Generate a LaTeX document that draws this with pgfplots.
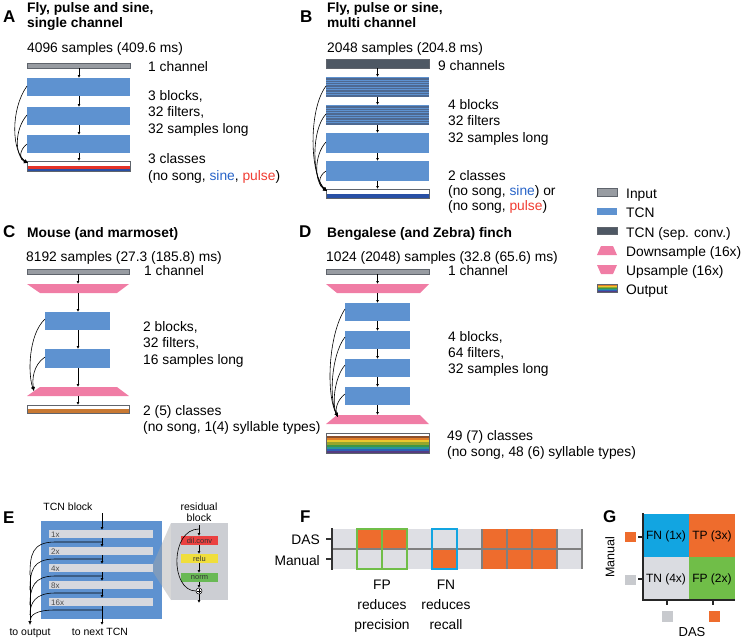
\documentclass[border=0pt]{standalone}
\usepackage{pgfplots}
\pgfplotsset{compat=1.18}
\usepackage{fontspec}
\setmainfont{Liberation Sans}
\usetikzlibrary{arrows.meta}
\definecolor{tcn}{RGB}{94,146,208}
\definecolor{inp}{RGB}{152,156,162}
\definecolor{inpd}{RGB}{95,100,108}
\definecolor{sep}{RGB}{78,88,100}
\definecolor{stripe}{RGB}{78,105,145}
\definecolor{pinkc}{RGB}{240,125,165}
\definecolor{redc}{RGB}{228,50,40}
\definecolor{bluec}{RGB}{40,80,165}
\definecolor{sinec}{RGB}{40,100,200}
\definecolor{pulsec}{RGB}{240,60,50}
\definecolor{orc}{RGB}{238,108,45}
\definecolor{lg}{RGB}{222,223,228}
\definecolor{grc}{RGB}{112,190,72}
\definecolor{cyc}{RGB}{18,165,225}
\definecolor{brc}{RGB}{200,120,50}
\definecolor{barg}{RGB}{214,216,222}
\definecolor{resg}{RGB}{204,206,211}
\definecolor{sA}{RGB}{140,80,45}
\definecolor{sB}{RGB}{225,125,40}
\definecolor{sC}{RGB}{235,200,45}
\definecolor{sD}{RGB}{150,165,45}
\definecolor{sE}{RGB}{60,150,70}
\definecolor{sF}{RGB}{40,150,150}
\definecolor{sG}{RGB}{45,95,180}
\definecolor{sH}{RGB}{85,60,130}
\tikzset{
 t/.style={anchor=base west, inner sep=0pt, font=\fontsize{13.8}{16}\selectfont},
 tb/.style={anchor=base west, inner sep=0pt, font=\fontsize{13.8}{16}\selectfont\bfseries},
 L/.style={anchor=base west, inner sep=0pt, font=\fontsize{17}{20}\selectfont\bfseries},
 te/.style={anchor=base, inner sep=0pt, font=\fontsize{10.5}{12}\selectfont},
 ts/.style={anchor=base west, inner sep=0pt, font=\fontsize{8}{9}\selectfont, text=black!70},
 tc/.style={anchor=center, inner sep=0pt, font=\fontsize{7.5}{8}\selectfont, text=black!80},
 ar/.style={-{Latex[length=3pt,width=3pt]}, line width=0.6pt},
 sk/.style={-{Latex[length=4pt,width=3.5pt]}, line width=0.6pt},
}
\newcommand\R[5]{\addplot[#1] coordinates {(#2,#3) (#4,#3) (#4,#5) (#2,#5)} --cycle;}
\newcommand\Ar[3]{\draw[ar] (axis cs:#1,#2) -- (axis cs:#1,#3);}
\begin{document}
\begin{tikzpicture}
\begin{axis}[scale only axis, width=742pt, height=638pt, xmin=0, xmax=742, ymin=0, ymax=638,
  y dir=reverse, hide axis, clip=false]
\addplot[draw=none] coordinates {(0,0) (742,638)};
% ===== Panel A =====
\node[L] at (axis cs:3,22) {A};
\node[tb] at (axis cs:27,12.5) {Fly, pulse and sine,};
\node[tb] at (axis cs:27,27.5) {single channel};
\node[t] at (axis cs:27,52) {4096 samples (409.6 ms)};
\R{fill=inp,draw=inpd,line width=0.8pt}{27}{63}{130}{68}
\node[t] at (axis cs:148,71) {1 channel};
\R{fill=tcn,draw=none}{27}{78}{130}{96}
\R{fill=tcn,draw=none}{27}{107}{130}{125}
\R{fill=tcn,draw=none}{27}{135}{130}{153}
\Ar{79}{68}{78}\Ar{79}{96}{107}\Ar{79}{125}{135}\Ar{79}{153}{161}
\R{fill=white,draw=none}{27}{161}{130}{166}
\R{fill=redc,draw=none}{27}{166}{130}{168.5}
\R{fill=bluec,draw=none}{27}{168.5}{130}{171}
\R{draw=inpd,line width=0.6pt}{27}{161}{130}{171}
\draw[sk] (axis cs:27,86) .. controls (axis cs:10,110) and (axis cs:12,152) .. (axis cs:28,163);
\draw[sk] (axis cs:27,115) .. controls (axis cs:14,130) and (axis cs:15,156) .. (axis cs:28,163);
\draw[sk] (axis cs:27,144) .. controls (axis cs:19,150) and (axis cs:19,160) .. (axis cs:28,163);
\node[t] at (axis cs:148,100) {3 blocks,};
\node[t] at (axis cs:148,116.5) {32 filters,};
\node[t] at (axis cs:148,133) {32 samples long};
\node[t] at (axis cs:148,163) {3 classes};
\node[t] at (axis cs:148,180) {(no song, \textcolor{sinec}{sine}, \textcolor{pulsec}{pulse})};
% ===== Panel B =====
\node[L] at (axis cs:300,22) {B};
\node[tb] at (axis cs:327,12.5) {Fly, pulse or sine,};
\node[tb] at (axis cs:327,27.5) {multi channel};
\node[t] at (axis cs:327,52) {2048 samples (204.8 ms)};
\R{fill=sep,draw=inpd,line width=0.6pt}{326}{59}{429}{68}
\node[t] at (axis cs:438,70) {9 channels};
\R{fill=tcn,draw=none}{326}{77}{429}{97}
\R{fill=tcn,draw=none}{326}{105}{429}{125}
\pgfplotsinvokeforeach{78,79.7,81.4,83.1,84.8,86.5,88.2,89.9,91.6,93.3,95,96.5,106,107.7,109.4,111.1,112.8,114.5,116.2,117.9,119.6,121.3,123,124.5}{
  \draw[stripe, line width=0.45pt] (axis cs:326,#1) -- (axis cs:429,#1);}
\R{fill=tcn,draw=none}{326}{133}{429}{153}
\R{fill=tcn,draw=none}{326}{161}{429}{181}
\Ar{377.5}{68}{77}\Ar{377.5}{97}{105}\Ar{377.5}{125}{133}\Ar{377.5}{153}{161}\Ar{377.5}{181}{189}
\R{fill=white,draw=none}{326}{189}{429}{193.5}
\R{fill=bluec,draw=none}{326}{193.5}{429}{198}
\R{draw=inpd,line width=0.6pt}{326}{189}{429}{198}
\draw[sk] (axis cs:326,86) .. controls (axis cs:308,110) and (axis cs:310,175) .. (axis cs:327,191);
\draw[sk] (axis cs:326,114) .. controls (axis cs:311,130) and (axis cs:312,178) .. (axis cs:327,191);
\draw[sk] (axis cs:326,142) .. controls (axis cs:314,155) and (axis cs:314,182) .. (axis cs:327,191);
\draw[sk] (axis cs:326,171) .. controls (axis cs:318,176) and (axis cs:318,186) .. (axis cs:327,191);
\node[t] at (axis cs:448,109) {4 blocks};
\node[t] at (axis cs:448,125.5) {32 filters};
\node[t] at (axis cs:448,142) {32 samples long};
\node[t] at (axis cs:448,180) {2 classes};
\node[t] at (axis cs:448,195) {(no song, \textcolor{sinec}{sine}) or};
\node[t] at (axis cs:448,210) {(no song, \textcolor{pulsec}{pulse})};
% ===== Panel C =====
\node[L] at (axis cs:3,237) {C};
\node[tb] at (axis cs:27,237) {Mouse (and marmoset)};
\node[t] at (axis cs:26,261) {8192 samples (27.3 (185.8) ms)};
\R{fill=inp,draw=inpd,line width=0.8pt}{27}{269}{129}{274}
\node[t] at (axis cs:144,275) {1 channel};
\Ar{78}{274}{284}
\addplot[fill=pinkc,draw=none] coordinates {(27,284) (129,284) (117,293) (40,293)} --cycle;
\Ar{78}{293}{312}
\R{fill=tcn,draw=none}{45}{312}{110}{330}
\R{fill=tcn,draw=none}{45}{349}{110}{368}
\Ar{78}{330}{349}\Ar{78}{368}{387}
\addplot[fill=pinkc,draw=none] coordinates {(40,387) (117,387) (129,396) (27,396)} --cycle;
\Ar{78}{396}{405}
\R{fill=white,draw=none}{27}{405}{129}{409}
\R{fill=brc,draw=none}{27}{409}{129}{413.5}
\R{draw=inpd,line width=0.6pt}{27}{405}{129}{413.5}
\draw[sk] (axis cs:45,319) .. controls (axis cs:28,335) and (axis cs:28,375) .. (axis cs:34,391);
\draw[sk] (axis cs:45,357) .. controls (axis cs:33,365) and (axis cs:32,380) .. (axis cs:34,391);
\node[t] at (axis cs:143,331) {2 blocks,};
\node[t] at (axis cs:143,347.5) {32 filters,};
\node[t] at (axis cs:143,364) {16 samples long};
\node[t] at (axis cs:143,415) {2 (5) classes};
\node[t] at (axis cs:143,431) {(no song, 1(4) syllable types)};
% ===== Panel D =====
\node[L] at (axis cs:299,237) {D};
\node[tb] at (axis cs:327,237) {Bengalese (and Zebra) finch};
\node[t] at (axis cs:326,261) {1024 (2048) samples (32.8 (65.6) ms)};
\R{fill=inp,draw=inpd,line width=0.8pt}{326}{269}{429}{274}
\node[t] at (axis cs:448,275) {1 channel};
\Ar{377.5}{274}{284}
\addplot[fill=pinkc,draw=none] coordinates {(326,284) (429,284) (420,293) (337,293)} --cycle;
\Ar{377.5}{293}{303}
\R{fill=tcn,draw=none}{345}{303}{410}{321}
\R{fill=tcn,draw=none}{345}{331}{410}{349}
\R{fill=tcn,draw=none}{345}{359}{410}{377}
\R{fill=tcn,draw=none}{345}{387}{410}{405}
\Ar{377.5}{321}{331}\Ar{377.5}{349}{359}\Ar{377.5}{377}{387}\Ar{377.5}{405}{415}
\addplot[fill=pinkc,draw=none] coordinates {(337,415) (420,415) (429,424) (326,424)} --cycle;
\R{fill=white,draw=none}{326}{433}{429}{436}
\R{fill=sA,draw=none}{326}{436}{429}{438.2}
\R{fill=sB,draw=none}{326}{438.2}{429}{440.3}
\R{fill=sC,draw=none}{326}{440.3}{429}{442.4}
\R{fill=sD,draw=none}{326}{442.4}{429}{444.5}
\R{fill=sE,draw=none}{326}{444.5}{429}{446.6}
\R{fill=sF,draw=none}{326}{446.6}{429}{448.8}
\R{fill=sG,draw=none}{326}{448.8}{429}{450.9}
\R{fill=sH,draw=none}{326}{450.9}{429}{453}
\R{draw=inpd,line width=0.6pt}{326}{433}{429}{453}
\draw[sk] (axis cs:345,309) .. controls (axis cs:328,335) and (axis cs:326,395) .. (axis cs:338,417);
\draw[sk] (axis cs:345,337) .. controls (axis cs:331,355) and (axis cs:329,400) .. (axis cs:338,417);
\draw[sk] (axis cs:345,365) .. controls (axis cs:334,378) and (axis cs:332,405) .. (axis cs:338,417);
\draw[sk] (axis cs:345,394) .. controls (axis cs:337,400) and (axis cs:335,410) .. (axis cs:338,417);
\node[t] at (axis cs:448,341) {4 blocks,};
\node[t] at (axis cs:448,357) {64 filters,};
\node[t] at (axis cs:448,373) {32 samples long};
\node[t] at (axis cs:447,440) {49 (7) classes};
\node[t] at (axis cs:447,456) {(no song, 48 (6) syllable types)};
% ===== Legend =====
\R{fill=inp,draw=inpd,line width=0.8pt}{597}{188}{617}{196}
\node[t] at (axis cs:626,198) {Input};
\R{fill=tcn,draw=none}{597}{208}{617}{215}
\node[t] at (axis cs:626,217.5) {TCN};
\R{fill=sep,draw=inpd,line width=0.6pt}{597}{227}{617}{234}
\node[t] at (axis cs:626,237) {TCN (sep. conv.)};
\addplot[fill=pinkc,draw=none] coordinates {(601,246) (613,246) (617,255) (597,255)} --cycle;
\node[t] at (axis cs:626,256.5) {Downsample (16x)};
\addplot[fill=pinkc,draw=none] coordinates {(597,265) (617,265) (613,274) (601,274)} --cycle;
\node[t] at (axis cs:626,275) {Upsample (16x)};
\R{fill=sA,draw=none}{597}{284}{617}{285}
\R{fill=sB,draw=none}{597}{285}{617}{286}
\R{fill=sC,draw=none}{597}{286}{617}{287}
\R{fill=sD,draw=none}{597}{287}{617}{288}
\R{fill=sE,draw=none}{597}{288}{617}{289}
\R{fill=sF,draw=none}{597}{289}{617}{290}
\R{fill=sG,draw=none}{597}{290}{617}{291}
\R{fill=sH,draw=none}{597}{291}{617}{292}
\R{draw=inpd,line width=0.5pt}{597}{284}{617}{292}
\node[t] at (axis cs:626,294) {Output};
% ===== Panel E =====
\node[L] at (axis cs:3,523) {E};
\node[te] at (axis cs:68,510) {TCN block};
\R{fill=tcn,draw=none}{41}{521}{162}{619}
\R{fill=barg,draw=none}{49}{530}{153}{538}
\R{fill=barg,draw=none}{49}{547}{153}{555}
\R{fill=barg,draw=none}{49}{564}{153}{572}
\R{fill=barg,draw=none}{49}{581}{153}{589}
\R{fill=barg,draw=none}{49}{598}{153}{606}
\node[ts] at (axis cs:51,537) {1x};
\node[ts] at (axis cs:51,554) {2x};
\node[ts] at (axis cs:51,571) {4x};
\node[ts] at (axis cs:51,588) {8x};
\node[ts] at (axis cs:51,605) {16x};
\Ar{102}{513}{530}\Ar{102}{538}{547}\Ar{102}{555}{564}\Ar{102}{572}{581}\Ar{102}{589}{598}\Ar{102}{606}{625}
\draw[line width=0.6pt] (axis cs:102,542) -- (axis cs:55,542) .. controls (axis cs:32,542) and (axis cs:30,555) .. (axis cs:30,575);
\draw[line width=0.6pt] (axis cs:102,559) -- (axis cs:55,559) .. controls (axis cs:33,559) and (axis cs:30,570) .. (axis cs:30,590);
\draw[line width=0.6pt] (axis cs:102,576) -- (axis cs:55,576) .. controls (axis cs:34,576) and (axis cs:30,587) .. (axis cs:30,605);
\draw[line width=0.6pt] (axis cs:102,593) -- (axis cs:55,593) .. controls (axis cs:35,593) and (axis cs:30,603) .. (axis cs:30,615);
\draw[sk] (axis cs:102,610) -- (axis cs:55,610) .. controls (axis cs:36,610) and (axis cs:30,615) .. (axis cs:30,625);
\draw[line width=0.6pt] (axis cs:30,575) -- (axis cs:30,620);
\node[te] at (axis cs:30,635) {to output};
\node[te] at (axis cs:100,635) {to next TCN};
\addplot[fill=black!35,draw=none,opacity=0.45] coordinates {(153,564) (171,523) (171,600) (153,572)} --cycle;
\R{fill=resg,draw=none}{171}{523}{228}{600}
\node[te] at (axis cs:199,510) {residual};
\node[te] at (axis cs:199,521.5) {block};
\R{fill={rgb,255:red,235;green,65;blue,65},draw=none}{181}{536}{218}{545}
\R{fill={rgb,255:red,240;green,222;blue,60},draw=none}{181}{554}{218}{563}
\R{fill={rgb,255:red,105;green,185;blue,85},draw=none}{181}{573}{218}{582}
\node[tc] at (axis cs:199.5,540.5) {dil.conv};
\node[tc] at (axis cs:199.5,558.5) {relu};
\node[tc] at (axis cs:199.5,577.5) {norm};
\Ar{199}{525}{536}\Ar{199}{545}{554}\Ar{199}{563}{573}\Ar{199}{582}{588}\Ar{199}{594}{603}
\draw[line width=0.6pt] (axis cs:199,529) .. controls (axis cs:170,529) and (axis cs:170,591) .. (axis cs:196,591);
\draw[line width=0.5pt, fill=white] (axis cs:199,591) circle[radius=3pt];
\draw[line width=0.5pt] (axis cs:197.3,591) -- (axis cs:200.7,591) (axis cs:199,589.3) -- (axis cs:199,592.7);
% ===== Panel F =====
\node[L] at (axis cs:300,522) {F};
\R{fill=lg,draw=none}{332}{529}{582}{569}
\R{fill=orc,draw=none}{357}{529}{407}{549}
\R{fill=orc,draw=none}{482}{529}{557}{549}
\R{fill=orc,draw=none}{432}{549}{457}{569}
\R{fill=orc,draw=none}{482}{549}{557}{569}
\draw[black!50, line width=1.2pt] (axis cs:332,549) -- (axis cs:582,549);
\draw[black!50, line width=1.2pt] (axis cs:482,529) -- (axis cs:482,569) (axis cs:507,529) -- (axis cs:507,569) (axis cs:532,529) -- (axis cs:532,569) (axis cs:557,529) -- (axis cs:557,569) (axis cs:582,529) -- (axis cs:582,569);
\R{draw=grc,line width=1.6pt}{357}{529}{407}{569}
\draw[grc, line width=1.6pt] (axis cs:382,529) -- (axis cs:382,569);
\R{draw=cyc,line width=1.6pt}{432}{529}{457}{569}
\draw[black!80, line width=1.4pt] (axis cs:332,528) -- (axis cs:332,570);
\draw[black!80, line width=1.2pt] (axis cs:326,539) -- (axis cs:332,539) (axis cs:326,559) -- (axis cs:332,559);
\node[t, anchor=base east] at (axis cs:320,544) {DAS};
\node[t, anchor=base east] at (axis cs:320,565) {Manual};
\node[t, anchor=base] at (axis cs:382,589) {FP};
\node[t, anchor=base] at (axis cs:382,609) {reduces};
\node[t, anchor=base] at (axis cs:382,629) {precision};
\node[t, anchor=base] at (axis cs:446,589) {FN};
\node[t, anchor=base] at (axis cs:446,609) {reduces};
\node[t, anchor=base] at (axis cs:446,629) {recall};
% ===== Panel G =====
\node[L] at (axis cs:603,522) {G};
\R{fill=cyc,draw=none}{643}{514}{689}{557}
\R{fill=orc,draw=none}{689}{514}{735}{557}
\R{fill={rgb,255:red,218;green,220;blue,225},draw=none}{643}{557}{689}{600}
\R{fill=grc,draw=none}{689}{557}{735}{600}
\draw[black!85, line width=1.4pt] (axis cs:643,513) -- (axis cs:643,600) -- (axis cs:735,600);
\draw[black!85, line width=1.2pt] (axis cs:638,537) -- (axis cs:643,537) (axis cs:638,579) -- (axis cs:643,579) (axis cs:667,600) -- (axis cs:667,605) (axis cs:713,600) -- (axis cs:713,605);
\R{fill=orc,draw=none}{625}{532}{636}{542}
\R{fill={rgb,255:red,200;green,202;blue,206},draw=none}{625}{575}{636}{585}
\R{fill={rgb,255:red,200;green,202;blue,206},draw=none}{662}{611}{673}{622}
\R{fill=orc,draw=none}{709}{611}{720}{622}
\node[anchor=center, inner sep=0pt, font=\fontsize{12}{14}\selectfont] at (axis cs:666,536) {FN (1x)};
\node[anchor=center, inner sep=0pt, font=\fontsize{12}{14}\selectfont] at (axis cs:712,536) {TP (3x)};
\node[anchor=center, inner sep=0pt, font=\fontsize{12}{14}\selectfont] at (axis cs:666,579) {TN (4x)};
\node[anchor=center, inner sep=0pt, font=\fontsize{12}{14}\selectfont] at (axis cs:712,579) {FP (2x)};
\node[anchor=center, inner sep=0pt, rotate=90, font=\fontsize{12.5}{14}\selectfont] at (axis cs:610,557) {Manual};
\node[anchor=base, inner sep=0pt, font=\fontsize{13}{14}\selectfont] at (axis cs:692,636) {DAS};
\end{axis}
\end{tikzpicture}
\end{document}
